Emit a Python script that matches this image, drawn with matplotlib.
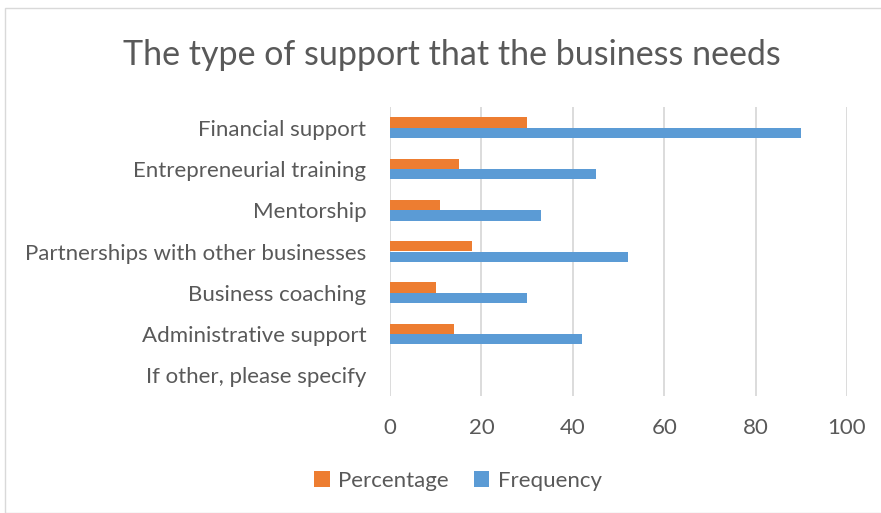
import matplotlib.pyplot as plt
import numpy as np
from matplotlib.patches import Rectangle

categories = ["Financial support", "Entrepreneurial training", "Mentorship",
              "Partnerships with other businesses", "Business coaching",
              "Administrative support", "If other, please specify"]
percentage = [30, 15, 11, 18, 10, 14, 0]
frequency = [90, 45, 33, 52, 30, 42, 0]

W, H = 881, 513
fig = plt.figure(figsize=(W / 100, H / 100), dpi=100)
plt.rcParams['font.family'] = ['Lato', 'DejaVu Sans']

# chart border
fig.patches.append(Rectangle((5 / W, 0), 1, 1 - 8 / H, transform=fig.transFigure,
                             fill=False, edgecolor="#d9d9d9", lw=1))

ax = fig.add_axes([390 / W, 1 - 396 / H, (847 - 390) / W, (396 - 107) / H])
y = np.arange(len(categories))
h = 0.25
ax.barh(y - h / 2, percentage, height=h, color="#ed7d31", label="Percentage")
ax.barh(y + h / 2, frequency, height=h, color="#5b9bd5", label="Frequency")

ax.set_xlim(0, 100)
ax.set_ylim(len(categories) - 0.5, -0.5)
ax.set_xticks(range(0, 101, 20))
ax.set_yticks(y)
ax.set_yticklabels(categories)
ax.tick_params(axis="both", length=0, colors="#595959", labelsize=16)
ax.tick_params(axis="x", pad=16)
ax.tick_params(axis="y", pad=17)
ax.grid(axis="x", color="#d9d9d9", lw=1.3)
ax.set_axisbelow(True)
for s in ax.spines.values():
    s.set_visible(False)

fig.text(452 / W, 1 - 55 / H, "The type of support that the business needs",
         ha="center", va="center", fontsize=24.5, color="#595959")

fig.legend(loc="center", bbox_to_anchor=(458 / W, 1 - 481 / H), ncol=2,
           frameon=False, fontsize=16, labelcolor="#595959",
           handlelength=0.7, handleheight=0.7, columnspacing=1.1, handletextpad=0.4)

fig.savefig("out.png", dpi=100)
